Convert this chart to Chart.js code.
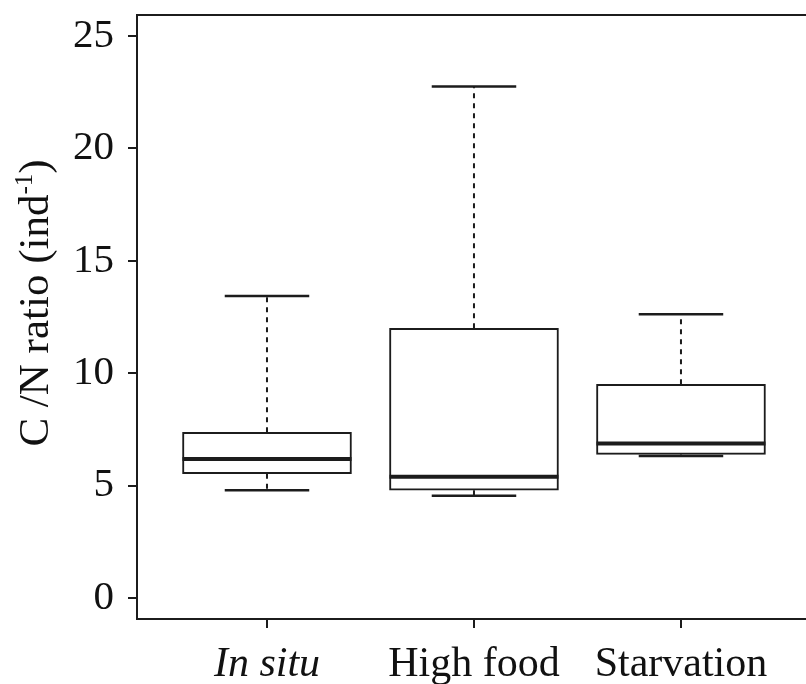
<!DOCTYPE html>
<html>
<head>
<meta charset="utf-8">
<script src="https://cdn.jsdelivr.net/npm/chart.js@4.4.1/dist/chart.umd.min.js"></script>
<style>
  html, body { margin: 0; padding: 0; background: #fff; overflow: hidden; }
  canvas { display: block; }
</style>
</head>
<body>
<canvas id="boxChart" width="806" height="684"></canvas>
<script>
// C/N ratio per treatment, box summary values
const categories = ['In situ', 'High food', 'Starvation'];
const whiskerLow = [4.8, 4.55, 6.32];
const q1 = [5.53, 4.8, 6.39];
const medians = [6.18, 5.4, 6.88];
const q3 = [7.37, 12.0, 9.51];
const whiskerHigh = [13.43, 22.75, 12.62];
const yTicks = [0, 5, 10, 15, 20, 25];

const FONT = '"Liberation Serif", "Times New Roman", serif';
const INK = '#1c1c1c';

// whiskers, caps and medians drawn on top of the boxes
const boxExtras = {
  id: 'boxExtras',
  afterDatasetsDraw(chart) {
    const ctx = chart.ctx;
    const xs = chart.scales.x;
    const ys = chart.scales.y;
    const bars = chart.getDatasetMeta(0).data;
    ctx.save();
    ctx.strokeStyle = INK;
    categories.forEach((c, i) => {
      const cx = xs.getPixelForValue(i + 1);
      const half = bars[i].width / 2;
      const cap = half / 2;

      // dashed whiskers
      ctx.lineWidth = 2;
      ctx.setLineDash([5, 5]);
      ctx.beginPath();
      ctx.moveTo(cx, ys.getPixelForValue(q3[i]));
      ctx.lineTo(cx, ys.getPixelForValue(whiskerHigh[i]));
      ctx.moveTo(cx, ys.getPixelForValue(q1[i]));
      ctx.lineTo(cx, ys.getPixelForValue(whiskerLow[i]));
      ctx.stroke();

      // caps
      ctx.setLineDash([]);
      ctx.lineWidth = 2.5;
      ctx.beginPath();
      const yh = ys.getPixelForValue(whiskerHigh[i]);
      const yl = ys.getPixelForValue(whiskerLow[i]);
      ctx.moveTo(cx - cap, yh); ctx.lineTo(cx + cap, yh);
      ctx.moveTo(cx - cap, yl); ctx.lineTo(cx + cap, yl);
      ctx.stroke();

      // median
      ctx.lineWidth = 4;
      const ym = ys.getPixelForValue(medians[i]);
      ctx.beginPath();
      ctx.moveTo(cx - half, ym); ctx.lineTo(cx + half, ym);
      ctx.stroke();
    });
    ctx.restore();
  }
};

// top frame line and the y title with superscript
const frame = {
  id: 'frame',
  afterDraw(chart) {
    const ctx = chart.ctx;
    const a = chart.chartArea;
    ctx.save();
    ctx.strokeStyle = INK;
    ctx.lineWidth = 2;
    ctx.beginPath();
    ctx.moveTo(a.left - 1, a.top);
    ctx.lineTo(a.right, a.top);
    ctx.stroke();

    const size = 43;
    const supSize = 25;
    const main = 'C /N ratio (ind';
    const sup = '-1';
    const tail = ')';
    ctx.fillStyle = '#111';
    ctx.textBaseline = 'alphabetic';
    ctx.textAlign = 'left';
    ctx.font = size + 'px ' + FONT;
    const w1 = ctx.measureText(main).width;
    const w3 = ctx.measureText(tail).width;
    ctx.font = supSize + 'px ' + FONT;
    const w2 = ctx.measureText(sup).width;
    const total = w1 + w2 + w3;

    ctx.translate(48, 303);
    ctx.rotate(-Math.PI / 2);
    let x = -total / 2;
    ctx.font = size + 'px ' + FONT;
    ctx.fillText(main, x, 0);
    x += w1;
    ctx.font = supSize + 'px ' + FONT;
    ctx.fillText(sup, x, -16);
    x += w2;
    ctx.font = size + 'px ' + FONT;
    ctx.fillText(tail, x, 0);
    ctx.restore();
  }
};

const ctx = document.getElementById('boxChart');

new Chart(ctx, {
  type: 'bar',
  data: {
    datasets: [{
      data: categories.map((c, i) => ({ x: i + 1, y: [q1[i], q3[i]] })),
      backgroundColor: '#fff',
      borderColor: INK,
      borderWidth: 2,
      borderSkipped: false,
      barThickness: 169
    }]
  },
  options: {
    responsive: false,
    animation: false,
    layout: { padding: { top: 15, right: 0, left: 0, bottom: 0 } },
    plugins: {
      legend: { display: false },
      tooltip: { enabled: false }
    },
    scales: {
      x: {
        type: 'linear',
        offset: false,
        min: 0.372,
        max: 3.604,
        afterBuildTicks: s => { s.ticks = categories.map((c, i) => ({ value: i + 1 })); },
        afterFit: s => { s.height = 65; s.paddingLeft = 0; s.paddingRight = 0; },
        ticks: {
          autoSkip: false,
          maxRotation: 0,
          padding: 12,
          color: '#111',
          font: c => ({ family: FONT, size: 42, style: c.index === 0 ? 'italic' : 'normal' }),
          callback: v => categories[v - 1]
        },
        grid: { drawOnChartArea: false, offset: false, tickLength: 9, color: INK, lineWidth: 2 },
        border: { display: true, color: INK, width: 2 }
      },
      y: {
        min: -0.93,
        max: 25.93,
        afterBuildTicks: s => { s.ticks = yTicks.map(v => ({ value: v })); },
        afterFit: s => { s.width = 137; s.paddingTop = 0; s.paddingBottom = 0; },
        ticks: {
          padding: 14,
          color: '#111',
          font: { family: FONT, size: 41 }
        },
        grid: { drawOnChartArea: false, tickLength: 9, color: INK, lineWidth: 2 },
        border: { display: true, color: INK, width: 2 }
      }
    }
  },
  plugins: [boxExtras, frame]
});
</script>
</body>
</html>
